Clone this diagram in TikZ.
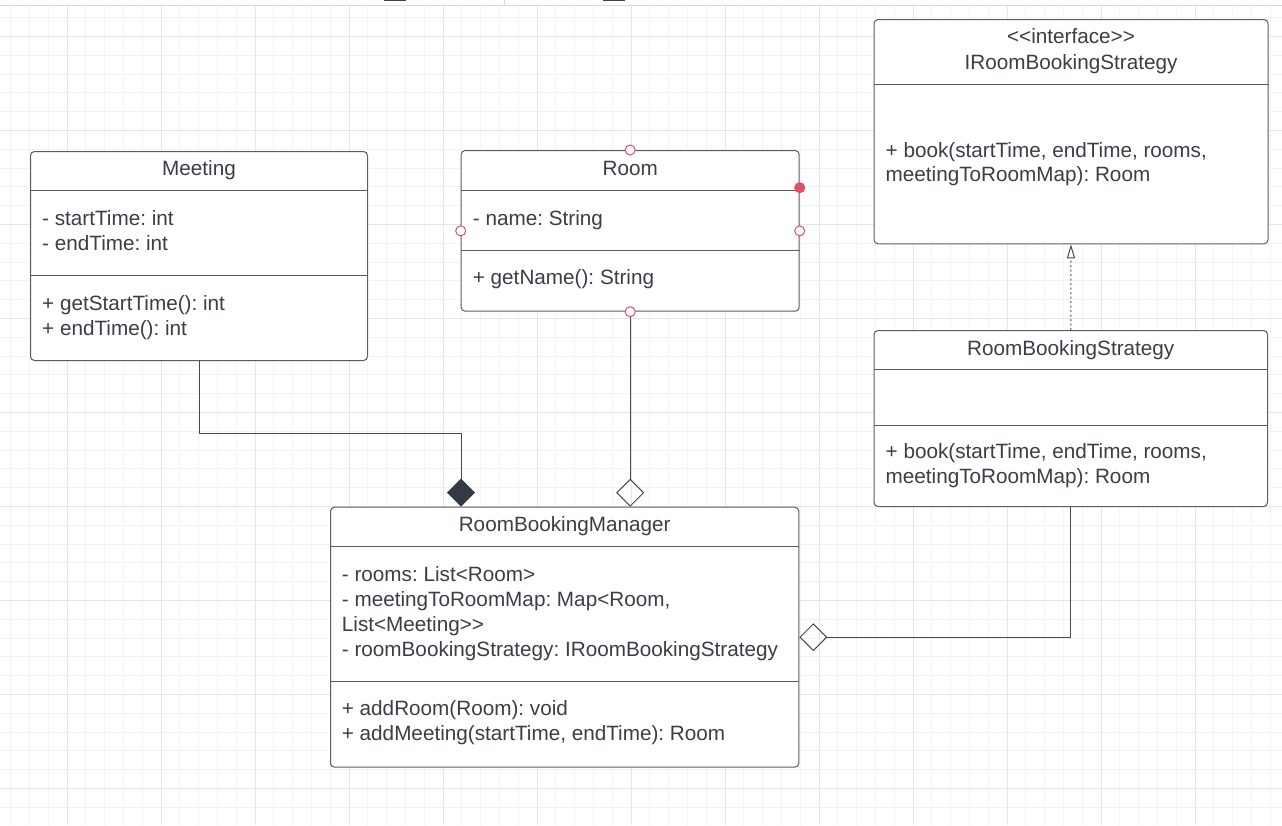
\documentclass[tikz,border=0pt]{standalone}
\usepackage{fontspec}
\setmainfont{Liberation Sans}
\usetikzlibrary{arrows.meta}
\frenchspacing

\definecolor{gridminor}{HTML}{F3F3F3}
\definecolor{gridmajor}{HTML}{E6E6E6}
\definecolor{edge}{HTML}{5C5C5C}
\definecolor{wire}{HTML}{4A4A4A}
\definecolor{ink}{HTML}{3A3E46}
\definecolor{dark}{HTML}{333A45}
\definecolor{handlered}{HTML}{E0506A}

\tikzset{
  classbox/.style={draw=edge, line width=1pt, rounded corners=4pt, anchor=north west, inner sep=0pt},
  divider/.style={draw=edge, line width=1pt},
  member/.style={anchor=base west, inner sep=0pt, text=ink, font=\fontsize{20.7pt}{25pt}\selectfont},
  title/.style={member, anchor=base},
  link/.style={draw=wire, line width=1pt},
  composition/.style={link, -{Diamond[length=28pt, width=28pt, color=dark, fill=dark]}},
  aggregation/.style={link, -{Diamond[open, length=28pt, width=28pt]}},
  realization/.style={link, dash pattern=on 2pt off 2.5pt, -{Triangle[open, length=14pt, width=8pt]}},
  handle/.style={circle, draw=handlered, fill=white, line width=1pt, minimum size=10pt, inner sep=0pt},
  activehandle/.style={handle, fill=handlered}
}

\begin{document}
\begin{tikzpicture}[x=1pt, y=-1pt]
\useasboundingbox (0,0) rectangle (1282,825);
\fill[white] (0,0) rectangle (1282,825);

% background grid
\foreach \i in {0,...,67} \draw[gridminor, line width=0.8pt] ({10.6+18.8*\i},6) -- ({10.6+18.8*\i},825);
\foreach \i in {0,...,43} \draw[gridminor, line width=0.8pt] (0,{17.6+18.8*\i}) -- (1282,{17.6+18.8*\i});
\foreach \i in {0,...,13} \draw[gridmajor, line width=0.9pt] ({67+94*\i},6) -- ({67+94*\i},825);
\foreach \i in {0,...,8} \draw[gridmajor, line width=0.9pt] (0,{36+94*\i}) -- (1282,{36+94*\i});

% toolbar edge
\fill[white] (0,0) rectangle (1282,5.5);
\draw[gray!30, line width=0.8pt] (0,5.5) -- (1282,5.5);
\draw[gray!30, line width=0.8pt] (504,0) -- (504,5.5);
\fill[black!75] (384,0) rectangle (405.5,1.2);
\fill[black!75] (603,0) rectangle (625,1.2);

% Meeting
\node[classbox, fill=white, minimum width=337pt, minimum height=209pt] (meeting) at (30,151) {};
\draw[divider] (meeting.west |- 0,190) -- (meeting.east |- 0,190);
\draw[divider] (meeting.west |- 0,275) -- (meeting.east |- 0,275);
\node[title] (meetingT) at (meeting.north |- 0,175.5) {Meeting};
\node[member] (meetingA1) at (42,225.5) {- startTime: int};
\node[member] (meetingA2) at (42,250.5) {- endTime: int};
\node[member] (meetingM1) at (42,310) {+ getStartTime(): int};
\node[member] (meetingM2) at (42,335.5) {+ endTime(): int};

% Room
\node[classbox, fill=white, minimum width=338pt, minimum height=160.7pt] (room) at (460.7,150) {};
\draw[divider] (room.west |- 0,190.3) -- (room.east |- 0,190.3);
\draw[divider] (room.west |- 0,250.3) -- (room.east |- 0,250.3);
\node[title] (roomT) at (room.north |- 0,175) {Room};
\node[member] (roomA1) at (472.7,225) {- name: String};
\node[member] (roomM1) at (472.7,284.5) {+ getName(): String};

% IRoomBookingStrategy
\node[classbox, fill=white, minimum width=394pt, minimum height=224.3pt] (irbs) at (873.5,19) {};
\draw[divider] (irbs.west |- 0,84) -- (irbs.east |- 0,84);
\node[title] (irbsS) at (irbs.north |- 0,43.5) {<{}<interface>{}>};
\node[title] (irbsT) at (irbs.north |- 0,69) {IRoomBookingStrategy};
\node[member] (irbsM1) at (885.5,157) {+ book(startTime, endTime, rooms,};
\node[member] (irbsM2) at (885.5,181.5) {meetingToRoomMap): Room};

% RoomBookingStrategy
\node[classbox, fill=white, minimum width=393.5pt, minimum height=176pt] (rbs) at (873.5,330) {};
\draw[divider] (rbs.west |- 0,369) -- (rbs.east |- 0,369);
\draw[divider] (rbs.west |- 0,425) -- (rbs.east |- 0,425);
\node[title] (rbsT) at (rbs.north |- 0,355.5) {RoomBookingStrategy};
\node[member] (rbsM1) at (885.5,458.5) {+ book(startTime, endTime, rooms,};
\node[member] (rbsM2) at (885.5,483.5) {meetingToRoomMap): Room};

% RoomBookingManager
\node[classbox, fill=white, minimum width=468.3pt, minimum height=260pt] (rbm) at (330,506.7) {};
\draw[divider] (rbm.west |- 0,546) -- (rbm.east |- 0,546);
\draw[divider] (rbm.west |- 0,681.7) -- (rbm.east |- 0,681.7);
\node[title] (rbmT) at (rbm.north |- 0,531.5) {RoomBookingManager};
\node[member] (rbmA1) at (341.7,581.5) {- rooms: List<Room>};
\node[member] (rbmA2) at (341.7,606.5) {- meetingToRoomMap: Map<Room,};
\node[member] (rbmA3) at (341.7,631.5) {List<Meeting>{}>};
\node[member] (rbmA4) at (341.7,656.5) {- roomBookingStrategy: IRoomBookingStrategy};
\node[member] (rbmM1) at (341.7,715.5) {+ addRoom(Room): void};
\node[member] (rbmM2) at (341.7,740.5) {+ addMeeting(startTime, endTime): Room};

% connectors
\coordinate (rbmMeetingEnd) at (461,506.7);
\draw[composition] (meeting.south) |- (rbmMeetingEnd |- 0,433) -- (rbmMeetingEnd);
\draw[aggregation] (room.south) -- (room.south |- rbm.north);
\draw[aggregation] (rbs.south) |- (rbm.east);
\draw[realization] (rbs.north) -- (irbs.south);

% selection handles on Room
\node[handle] (hN) at (room.north) {};
\node[handle] (hW) at (room.west) {};
\node[handle] (hE) at (room.east) {};
\node[handle] (hS) at (room.south) {};
\node[activehandle] (hA) at (room.east |- 0,187.7) {};
\end{tikzpicture}
\end{document}
